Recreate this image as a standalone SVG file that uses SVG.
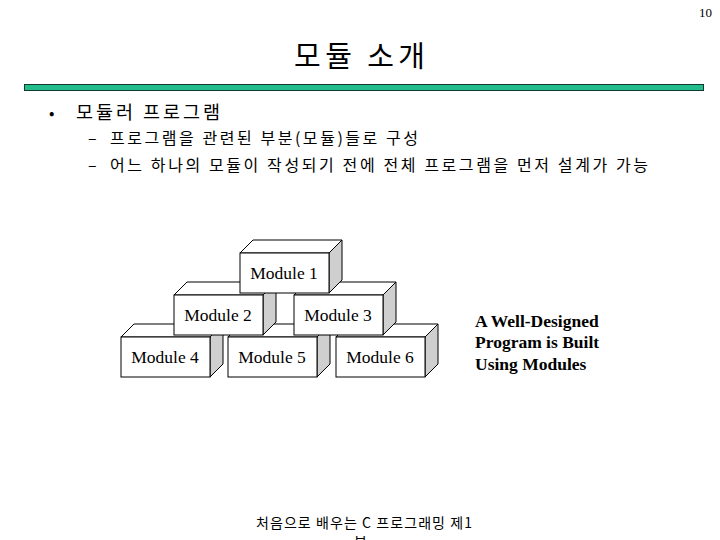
<svg xmlns="http://www.w3.org/2000/svg" width="720" height="540" viewBox="0 0 720 540">
<style>
.kr{font-family:"Noto Sans CJK KR","Noto Sans",sans-serif;fill:#000}
.serif{font-family:"Liberation Serif","Times New Roman",serif;fill:#000}
.front{fill:#fff;stroke:#000;stroke-width:1}
.top{fill:#fff;stroke:#000;stroke-width:1}
.side{fill:#cfcfcf;stroke:#000;stroke-width:1}
.lbl{font-family:"Liberation Serif","Times New Roman",serif;font-size:17.5px;text-anchor:middle;fill:#000}
</style>
<defs>
<g id="box">
<polygon class="top" points="0,0 13,-13 102,-13 89,0"/>
<polygon class="side" points="89,0 102,-13 102,27 89,40"/>
<rect class="front" x="0" y="0" width="89" height="40"/>
</g>
</defs>
<rect width="720" height="540" fill="#fff"/>
<text class="serif" x="712" y="17" font-size="13" text-anchor="end">10</text>
<text class="kr" x="294" y="67" font-size="29" textLength="131" lengthAdjust="spacing">모듈 소개</text>
<rect x="24.5" y="84.5" width="679" height="6" fill="#22bd8c" stroke="#103a2c" stroke-width="1"/>
<text class="kr" x="49" y="119" font-size="16">•</text>
<text class="kr" x="76" y="119" font-size="18.5" textLength="144" lengthAdjust="spacing">모듈러 프로그램</text>
<text class="kr" x="88" y="144" font-size="16">–</text>
<text class="kr" x="110" y="144" font-size="16" textLength="308" lengthAdjust="spacing">프로그램을 관련된 부분(모듈)들로 구성</text>
<text class="kr" x="88" y="171" font-size="16">–</text>
<text class="kr" x="110" y="171" font-size="16" textLength="538" lengthAdjust="spacing">어느 하나의 모듈이 작성되기 전에 전체 프로그램을 먼저 설계가 가능</text>
<g id="module4"><use href="#box" x="121" y="337"/><text class="lbl" x="165" y="363">Module 4</text></g>
<g id="module5"><use href="#box" x="228" y="337"/><text class="lbl" x="272" y="363">Module 5</text></g>
<g id="module6"><use href="#box" x="336" y="337"/><text class="lbl" x="380" y="363">Module 6</text></g>
<g id="module2"><use href="#box" x="174" y="295"/><text class="lbl" x="218" y="321">Module 2</text></g>
<g id="module3"><use href="#box" x="294" y="295"/><text class="lbl" x="338" y="321">Module 3</text></g>
<g id="module1"><use href="#box" x="240" y="253"/><text class="lbl" x="284" y="279">Module 1</text></g>
<g id="connectors"></g>
<g id="caption" class="serif" font-size="17.5" font-weight="bold">
<text x="475" y="327">A Well-Designed</text>
<text x="475" y="348">Program is Built</text>
<text x="475" y="370">Using Modules</text>
</g>
<text class="kr" x="256" y="528" font-size="14" textLength="216" lengthAdjust="spacing">처음으로 배우는 C 프로그래밍 제1</text>
<text class="kr" x="354" y="547" font-size="14">부</text>
</svg>
